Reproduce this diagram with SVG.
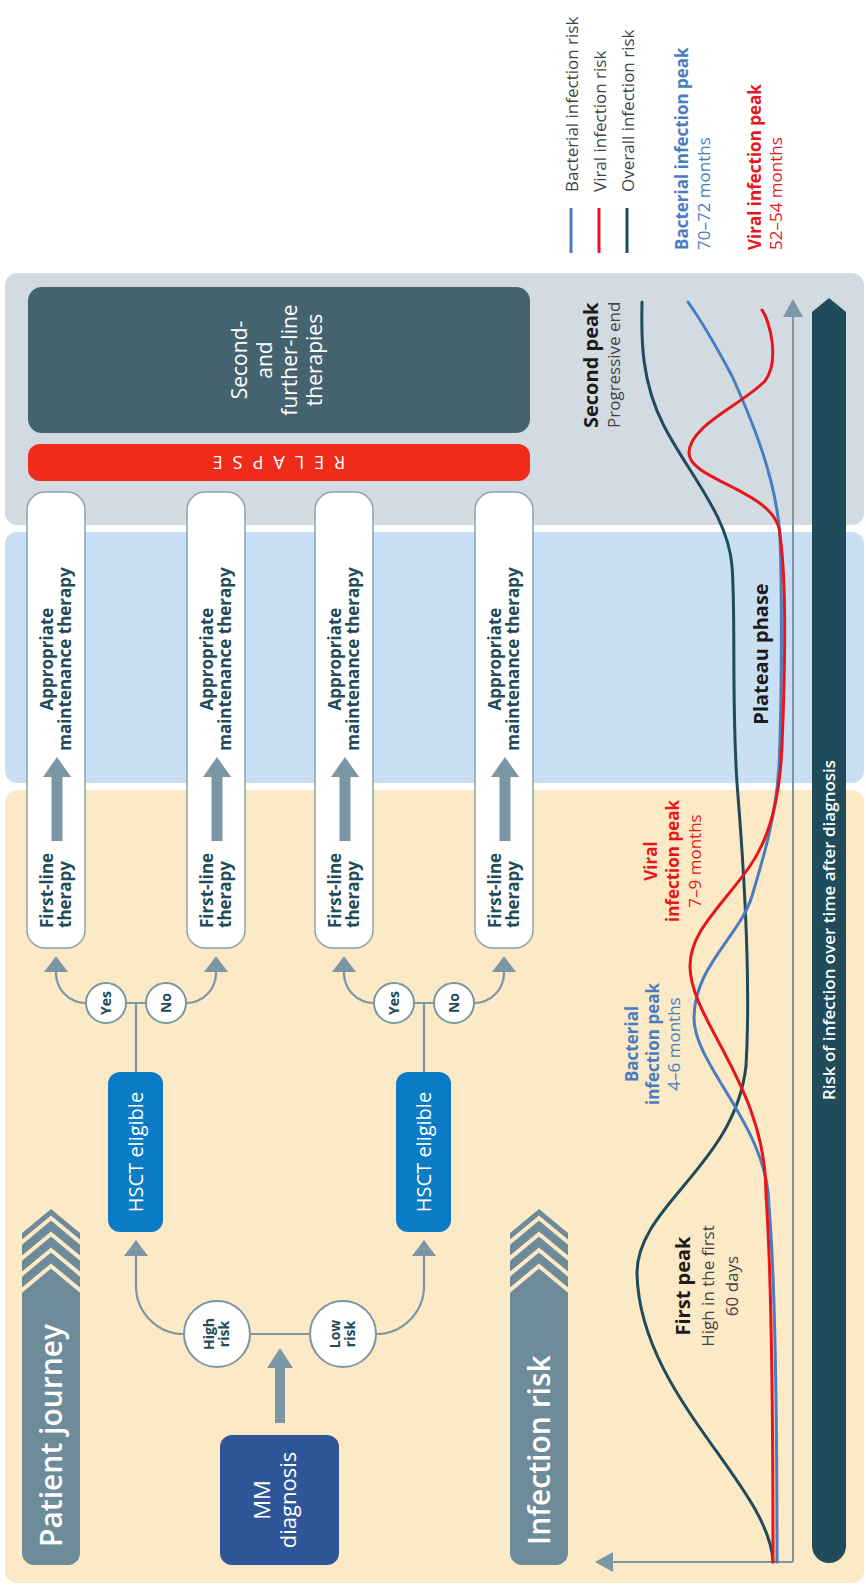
<svg xmlns="http://www.w3.org/2000/svg" width="866" height="1596" viewBox="0 0 866 1596">
<style>
text{font-family:"Open Sans","Liberation Sans",Arial,sans-serif}
.hd{font-size:30px;font-weight:600;fill:#fff}
.bx{font-size:17px;font-weight:700;fill:#1f4b5a}
.cl{font-size:14px;font-weight:700;fill:#1f4b5a;text-anchor:middle}
.wt{fill:#fff;text-anchor:middle}
.ln{fill:none;stroke:#7b96a4;stroke-width:2.2}
.ax{fill:none;stroke:#7b96a4;stroke-width:2}
.circ{fill:#fff;stroke:#7b96a4;stroke-width:2}
.wbox{fill:#fff;stroke:#8ba3b0;stroke-width:1.5}
.fat{fill:#7b96a4}
.cv{fill:none;stroke-width:3;stroke-linecap:round;stroke-linejoin:round}
.stripe{fill:none;stroke:#fce9c6;stroke-width:4}
.lab{font-size:17px}
.b{font-weight:700}
.big{font-size:20px;font-weight:700;fill:#1c1c1c}
.sub{font-size:17px;fill:#444}
.blue{fill:#4a7cc2}
.red{fill:#e8161c}
.mid{text-anchor:middle}
</style>
<defs>
<path id="hdr" d="M12,0 H332 L356,29 L332,58 H12 A12,12 0 0 1 0,46 V12 A12,12 0 0 1 12,0 Z"/>
<clipPath id="hclip"><use href="#hdr"/></clipPath>
<path id="fat" d="M0,-5.5 H64 V-14 L84,0 L64,14 V5.5 H0 Z"/>
<marker id="ah" markerUnits="userSpaceOnUse" viewBox="0 0 16 24" markerWidth="16" markerHeight="24" refX="8" refY="12" orient="auto">
<path d="M0,0 L16,12 L0,24 Z" fill="#7b96a4"/>
</marker>
<marker id="axh" markerUnits="userSpaceOnUse" viewBox="0 0 18 20" markerWidth="18" markerHeight="20" refX="9" refY="10" orient="auto">
<path d="M0,0 L18,10 L0,20 Z" fill="#7b96a4"/>
</marker>
</defs>
<rect x="0" y="0" width="866" height="1596" fill="#fff"/>
<g transform="translate(0,1596) rotate(-90)">
<g id="panels">
<rect x="13" y="5" width="793" height="859" rx="12" fill="#fce9c6"/>
<rect x="813" y="5" width="251" height="859" rx="12" fill="#c9dff4"/>
<rect x="1071" y="5" width="252" height="859" rx="12" fill="#d3dbe2"/>
</g>
<g id="header-patient-journey" transform="translate(31,22)">
<use href="#hdr" fill="#6e8b9a"/>
<g clip-path="url(#hclip)">
<polyline class="stripe" points="318,-6 347,29 318,64"/>
<polyline class="stripe" points="302,-6 331,29 302,64"/>
<polyline class="stripe" points="286,-6 315,29 286,64"/>
<polyline class="stripe" points="270,-6 299,29 270,64"/>
</g>
<text x="18" y="40" class="hd">Patient journey</text>
</g>
<g id="header-infection-risk" transform="translate(31,510)">
<use href="#hdr" fill="#6e8b9a"/>
<g clip-path="url(#hclip)">
<polyline class="stripe" points="318,-6 347,29 318,64"/>
<polyline class="stripe" points="302,-6 331,29 302,64"/>
<polyline class="stripe" points="286,-6 315,29 286,64"/>
<polyline class="stripe" points="270,-6 299,29 270,64"/>
</g>
<text x="20" y="40" class="hd">Infection risk</text>
</g>
<g id="mm-diagnosis">
<rect x="31" y="220" width="130" height="119" rx="12" fill="#2e5597"/>
<text class="wt" font-size="22" x="96" y="270">MM</text>
<text class="wt" font-size="22" x="96" y="296">diagnosis</text>
</g>
<g id="high-risk">
<circle class="circ" cx="262" cy="217" r="33"/>
<text class="cl" x="262" y="214">High</text>
<text class="cl" x="262" y="229">risk</text>
</g>
<g id="low-risk">
<circle class="circ" cx="262" cy="343" r="33"/>
<text class="cl" x="262" y="340">Low</text>
<text class="cl" x="262" y="355">risk</text>
</g>
<g id="hsct-1">
<rect x="364" y="108" width="160" height="55" rx="12" fill="#0b7cc4"/>
<text class="wt" font-size="20" x="444" y="142.5">HSCT eligible</text>
</g>
<g id="hsct-2">
<rect x="364" y="396" width="160" height="55" rx="12" fill="#0b7cc4"/>
<text class="wt" font-size="20" x="444" y="430.5">HSCT eligible</text>
</g>
<g id="yes-1"><circle class="circ" cx="593" cy="106" r="20"/><text class="cl" x="593" y="111">Yes</text></g>
<g id="no-1"><circle class="circ" cx="593" cy="166" r="20"/><text class="cl" x="593" y="171">No</text></g>
<g id="yes-2"><circle class="circ" cx="593" cy="394" r="20"/><text class="cl" x="593" y="399">Yes</text></g>
<g id="no-2"><circle class="circ" cx="593" cy="454" r="20"/><text class="cl" x="593" y="459">No</text></g>
<g id="therapy-1">
<rect class="wbox" x="648" y="27" width="456" height="58" rx="18"/>
<text class="bx" x="668" y="53">First-line</text>
<text class="bx" x="668" y="71">therapy</text>
<text class="bx mid" x="937" y="53">Appropriate</text>
<text class="bx mid" x="937" y="71">maintenance therapy</text>
</g>
<g id="therapy-2">
<rect class="wbox" x="648" y="187" width="456" height="58" rx="18"/>
<text class="bx" x="668" y="213">First-line</text>
<text class="bx" x="668" y="231">therapy</text>
<text class="bx mid" x="937" y="213">Appropriate</text>
<text class="bx mid" x="937" y="231">maintenance therapy</text>
</g>
<g id="therapy-3">
<rect class="wbox" x="648" y="315" width="456" height="58" rx="18"/>
<text class="bx" x="668" y="341">First-line</text>
<text class="bx" x="668" y="359">therapy</text>
<text class="bx mid" x="937" y="341">Appropriate</text>
<text class="bx mid" x="937" y="359">maintenance therapy</text>
</g>
<g id="therapy-4">
<rect class="wbox" x="648" y="475" width="456" height="58" rx="18"/>
<text class="bx" x="668" y="501">First-line</text>
<text class="bx" x="668" y="519">therapy</text>
<text class="bx mid" x="937" y="501">Appropriate</text>
<text class="bx mid" x="937" y="519">maintenance therapy</text>
</g>
<g id="relapse">
<rect x="1115" y="28" width="37" height="502" rx="12" fill="#ef2b1c"/>
<text class="wt" font-size="18" letter-spacing="10" transform="translate(1140,279) rotate(-90)" x="5" y="0">RELAPSE</text>
</g>
<g id="second-line">
<rect x="1163" y="28" width="146" height="502" rx="14" fill="#45626f"/>
<text class="wt" font-size="21" x="1236" y="247">Second-</text>
<text class="wt" font-size="21" x="1236" y="272">and</text>
<text class="wt" font-size="21" x="1236" y="297">further-line</text>
<text class="wt" font-size="21" x="1236" y="322">therapies</text>
</g>
<g id="timeline">
<path d="M50,812 H1284 L1298,829 L1284,846 H50 A17,17 0 0 1 50,812 Z" fill="#1f4b5a"/>
<text class="wt" font-size="17" font-weight="600" x="666" y="835">Risk of infection over time after diagnosis</text>
</g>
<g id="connectors">
<path class="fat" d="M173,275 H228 V267 L248,280 L228,293 V285 H173 Z"/>
<path class="ln" d="M262,250 V310"/>
<path class="ln" d="M262,184 A48,48 0 0 1 310,136 L348,136" marker-end="url(#ah)"/>
<path class="ln" d="M262,376 A48,48 0 0 0 310,424 L348,424" marker-end="url(#ah)"/>
<path class="ln" d="M524,136 H593 M593,126 V146"/>
<path class="ln" d="M524,424 H593 M593,414 V434"/>
<path class="ln" d="M593,86 A30,30 0 0 1 623,56 L632,56" marker-end="url(#ah)"/>
<path class="ln" d="M593,186 A30,30 0 0 0 623,216 L632,216" marker-end="url(#ah)"/>
<path class="ln" d="M593,374 A30,30 0 0 1 623,344 L632,344" marker-end="url(#ah)"/>
<path class="ln" d="M593,474 A30,30 0 0 0 623,504 L632,504" marker-end="url(#ah)"/>
<use href="#fat" class="fat" transform="translate(755,57)"/>
<use href="#fat" class="fat" transform="translate(755,217)"/>
<use href="#fat" class="fat" transform="translate(755,345)"/>
<use href="#fat" class="fat" transform="translate(755,505)"/>
<path class="ax" d="M34,793 V604" marker-end="url(#axh)"/>
<path class="ax" d="M34,793 H1288" marker-end="url(#axh)"/>
</g>
<g id="curves">
<path class="cv" stroke="#1f4b5a" d="M34,773 C110,770 200,640 322,637 C390,636 430,735 530,746 C600,750 700,746 800,738 C880,731 980,736 1030,732 C1080,728 1120,690 1170,664 C1220,638 1270,642 1294,642"/>
<path class="cv" stroke="#4a7cc2" d="M34,777 C200,777 330,774 390,769 C470,768 530,694 578,694 C630,694 660,740 700,752 C740,764 780,776 830,779 C900,782 1000,782 1060,780 C1120,776 1180,750 1220,732 C1250,716 1280,698 1294,688"/>
<path class="cv" stroke="#e8161c" d="M34,773 C200,773 330,771 400,766 C510,767 575,690 630,690 C665,690 690,722 730,750 C760,771 800,780 850,782 C950,786 1020,786 1060,780 C1105,780 1115,689 1143,689 C1170,689 1190,740 1215,765 C1235,780 1275,770 1286,762"/>
</g>
<g id="curve-labels">
<text class="big mid" x="310" y="690">First peak</text>
<text class="sub mid" x="310" y="714">High in the first</text>
<text class="sub mid" x="310" y="738">60 days</text>
<text class="lab b blue mid" x="552" y="638">Bacterial</text>
<text class="lab b blue mid" x="552" y="659">infection peak</text>
<text class="lab blue mid" x="552" y="680">4–6 months</text>
<text class="lab b red mid" x="735" y="657">Viral</text>
<text class="lab b red mid" x="735" y="679">infection peak</text>
<text class="lab red mid" x="735" y="701">7–9 months</text>
<text class="big mid" x="942" y="768">Plateau phase</text>
<text class="big" x="1168" y="598">Second peak</text>
<text class="sub" x="1168" y="620">Progressive end</text>
</g>
<g id="legend">
<line x1="1343" y1="571" x2="1388" y2="571" stroke="#4a7cc2" stroke-width="3"/>
<line x1="1343" y1="599" x2="1388" y2="599" stroke="#e8161c" stroke-width="3"/>
<line x1="1343" y1="627" x2="1388" y2="627" stroke="#1f4b5a" stroke-width="3"/>
<text class="sub" x="1404" y="578">Bacterial infection risk</text>
<text class="sub" x="1404" y="606">Viral infection risk</text>
<text class="sub" x="1404" y="634">Overall infection risk</text>
<text class="lab b blue" x="1346" y="688">Bacterial infection peak</text>
<text class="lab blue" x="1346" y="710">70–72 months</text>
<text class="lab b red" x="1346" y="761">Viral infection peak</text>
<text class="lab red" x="1346" y="782">52–54 months</text>
</g>
</g>
</svg>
